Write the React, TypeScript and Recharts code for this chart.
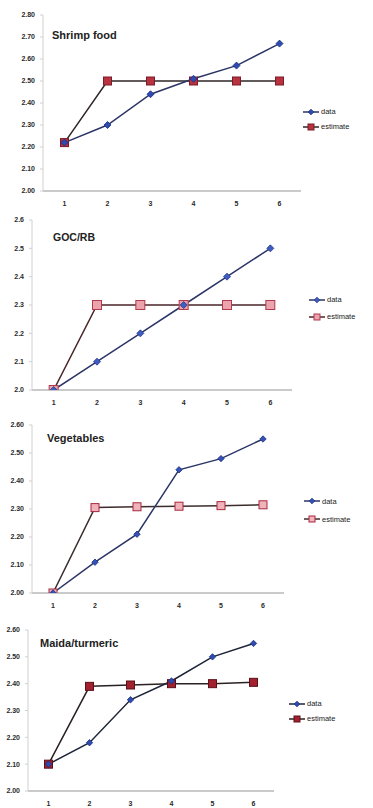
import React from 'react'
import { Legend, Line, LineChart, XAxis, YAxis } from 'recharts'

const categories = [1, 2, 3, 4, 5, 6]

const shrimpData = [2.22, 2.3, 2.44, 2.51, 2.57, 2.67]
const shrimpEstimate = [2.22, 2.5, 2.5, 2.5, 2.5, 2.5]

const gocData = [2.0, 2.1, 2.2, 2.3, 2.4, 2.5]
const gocEstimate = [2.0, 2.3, 2.3, 2.3, 2.3, 2.3]

const vegData = [2.0, 2.11, 2.21, 2.44, 2.48, 2.55]
const vegEstimate = [2.0, 2.305, 2.308, 2.31, 2.312, 2.315]

const maidaData = [2.1, 2.18, 2.34, 2.41, 2.5, 2.55]
const maidaEstimate = [2.1, 2.39, 2.395, 2.4, 2.4, 2.405]

const ticksTo280 = [2.0, 2.1, 2.2, 2.3, 2.4, 2.5, 2.6, 2.7, 2.8]
const ticksTo260 = [2.0, 2.1, 2.2, 2.3, 2.4, 2.5, 2.6]

const seriesNames = ['data', 'estimate']

const FONT = '"Liberation Sans", Arial, sans-serif'

function buildRows(data: number[], estimate: number[]) {
  return categories.map((c, i) => ({ x: c, data: data[i], estimate: estimate[i] }))
}

interface MarkStyle {
  fill: string
  stroke: string
  size: number
}

function Diamond({ cx, cy, m }: { cx: number; cy: number; m: MarkStyle }) {
  const s = m.size
  return (
    <path
      d={`M${cx},${cy - s} L${cx + s},${cy} L${cx},${cy + s} L${cx - s},${cy} Z`}
      fill={m.fill}
      stroke={m.stroke}
      strokeWidth={0.8}
    />
  )
}

function Square({ cx, cy, m }: { cx: number; cy: number; m: MarkStyle }) {
  const s = m.size
  return (
    <rect x={cx - s} y={cy - s} width={s * 2} height={s * 2} fill={m.fill} stroke={m.stroke} strokeWidth={1} />
  )
}

interface Panel {
  title: string
  rows: { x: number; data: number; estimate: number }[]
  yTicks: number[]
  decimals: number
  top: number
  height: number
  plotTop: number
  plotBottom: number
  plotLeft: number
  plotRight: number
  legendLeft: number
  legendTop: number
  legendGap: number
  titleX: number
  titleY: number
  titleSize: number
  dataLine: string
  estLine: string
  dataMark: MarkStyle
  estMark: MarkStyle
}

const panels: Panel[] = [
  {
    title: 'Shrimp food',
    rows: buildRows(shrimpData, shrimpEstimate),
    yTicks: ticksTo280,
    decimals: 2,
    top: 0,
    height: 208,
    plotTop: 15,
    plotBottom: 191,
    plotLeft: 43,
    plotRight: 301,
    legendLeft: 303,
    legendTop: 104,
    legendGap: 15,
    titleX: 52,
    titleY: 39,
    titleSize: 11,
    dataLine: '#2b3566',
    estLine: '#2e2626',
    dataMark: { fill: '#2d4bb0', stroke: '#1d2f80', size: 3.5 },
    estMark: { fill: '#b8323f', stroke: '#7a1c28', size: 4 },
  },
  {
    title: 'GOC/RB',
    rows: buildRows(gocData, gocEstimate),
    yTicks: ticksTo260,
    decimals: 1,
    top: 208,
    height: 202,
    plotTop: 220,
    plotBottom: 390,
    plotLeft: 32,
    plotRight: 292,
    legendLeft: 309,
    legendTop: 83,
    legendGap: 17,
    titleX: 53,
    titleY: 241,
    titleSize: 10.5,
    dataLine: '#2b3566',
    estLine: '#4a2428',
    dataMark: { fill: '#3f5fc0', stroke: '#23348a', size: 3.5 },
    estMark: { fill: '#eba3ae', stroke: '#b0394c', size: 4.5 },
  },
  {
    title: 'Vegetables',
    rows: buildRows(vegData, vegEstimate),
    yTicks: ticksTo260,
    decimals: 2,
    top: 410,
    height: 200,
    plotTop: 425,
    plotBottom: 593,
    plotLeft: 32,
    plotRight: 284,
    legendLeft: 304,
    legendTop: 82,
    legendGap: 18,
    titleX: 47,
    titleY: 442,
    titleSize: 11,
    dataLine: '#2b3566',
    estLine: '#3d2c2c',
    dataMark: { fill: '#3452b8', stroke: '#1f2f80', size: 3.2 },
    estMark: { fill: '#f0b3bb', stroke: '#a8293d', size: 4 },
  },
  {
    title: 'Maida/turmeric',
    rows: buildRows(maidaData, maidaEstimate),
    yTicks: ticksTo260,
    decimals: 2,
    top: 610,
    height: 198,
    plotTop: 630,
    plotBottom: 791,
    plotLeft: 28,
    plotRight: 274,
    legendLeft: 289,
    legendTop: 86,
    legendGap: 15,
    titleX: 40,
    titleY: 647,
    titleSize: 11,
    dataLine: '#1e2438',
    estLine: '#2a2222',
    dataMark: { fill: '#2d4bb0', stroke: '#1d2f80', size: 3.2 },
    estMark: { fill: '#a3202f', stroke: '#5a1018', size: 4 },
  },
]

function ChartLegend({ p }: { p: Panel }) {
  const items = [
    { name: seriesNames[0], line: p.dataLine, kind: 'diamond', m: p.dataMark },
    { name: seriesNames[1], line: p.estLine, kind: 'square', m: p.estMark },
  ]
  return (
    <div style={{ fontFamily: FONT, fontSize: 7.5, color: '#222' }}>
      {items.map((it) => (
        <div key={it.name} style={{ display: 'flex', alignItems: 'center', height: p.legendGap, whiteSpace: 'nowrap' }}>
          <svg width={16} height={10} style={{ marginRight: 2 }}>
            <line x1={0} y1={5} x2={16} y2={5} stroke={it.line} strokeWidth={1.5} />
            {it.kind === 'diamond' ? (
              <Diamond cx={8} cy={5} m={{ ...it.m, size: 2.8 }} />
            ) : (
              <Square cx={8} cy={5} m={{ ...it.m, size: 3 }} />
            )}
          </svg>
          <span style={{ color: '#222' }}>{it.name}</span>
        </div>
      ))}
    </div>
  )
}

function PanelChart({ p }: { p: Panel }) {
  const xAxisHeight = 16
  const localTop = p.plotTop - p.top
  const localBottom = p.plotBottom - p.top
  const tickStyle = { fill: '#2a2a2a', fontSize: 7, fontFamily: FONT, fontWeight: 600 }
  return (
    <div style={{ position: 'absolute', left: 0, top: p.top }}>
      <LineChart
        width={373}
        height={p.height}
        data={p.rows}
        margin={{ top: localTop, right: 373 - p.plotRight, bottom: p.height - localBottom - xAxisHeight, left: 0 }}
      >
        <XAxis
          dataKey='x'
          type='number'
          domain={[0.5, 6.5]}
          ticks={categories}
          height={xAxisHeight}
          stroke='#b8b8b8'
          strokeWidth={1.5}
          tickLine={false}
          tickMargin={4}
          tick={tickStyle}
          allowDataOverflow
        />
        <YAxis
          type='number'
          domain={[p.yTicks[0], p.yTicks[p.yTicks.length - 1]]}
          ticks={p.yTicks}
          width={p.plotLeft}
          stroke='#d0d0d0'
          tickSize={3}
          tickMargin={5}
          tick={tickStyle}
          tickFormatter={(v: number) => v.toFixed(p.decimals)}
          allowDataOverflow
        />
        <Legend
          layout='vertical'
          align='center'
          verticalAlign='middle'
          wrapperStyle={{ left: p.legendLeft, top: p.legendTop, width: 90 }}
          content={() => <ChartLegend p={p} />}
        />
        <Line
          dataKey='estimate'
          name={seriesNames[1]}
          stroke={p.estLine}
          strokeWidth={1.5}
          isAnimationActive={false}
          dot={(d: any) => <Square key={`e${d.index}`} cx={d.cx} cy={d.cy} m={p.estMark} />}
          activeDot={false}
        />
        <Line
          dataKey='data'
          name={seriesNames[0]}
          stroke={p.dataLine}
          strokeWidth={1.5}
          isAnimationActive={false}
          dot={(d: any) => <Diamond key={`d${d.index}`} cx={d.cx} cy={d.cy} m={p.dataMark} />}
          activeDot={false}
        />
        <text
          x={p.titleX}
          y={p.titleY - p.top}
          fontFamily={FONT}
          fontSize={p.titleSize}
          fontWeight={600}
          fill='#222'
        >
          {p.title}
        </text>
      </LineChart>
    </div>
  )
}

export default function App() {
  return (
    <div
      style={{
        position: 'absolute',
        left: 0,
        top: 0,
        width: 373,
        height: 808,
        overflow: 'hidden',
        background: '#fff',
      }}
    >
      {panels.map((p) => (
        <PanelChart key={p.title} p={p} />
      ))}
    </div>
  )
}
